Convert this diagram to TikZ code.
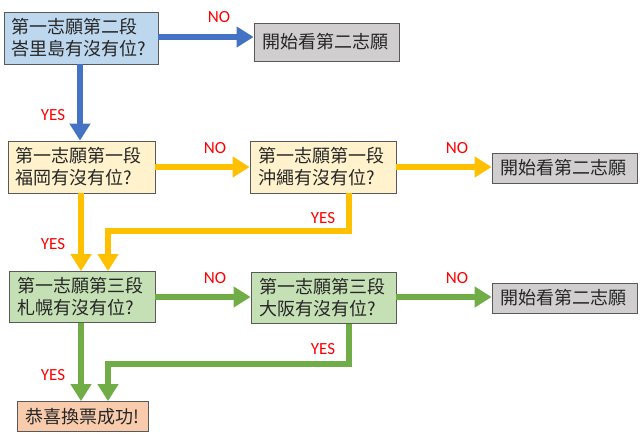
\documentclass[tikz,border=0pt]{standalone}
\usepackage{fontspec}
\setmainfont{Noto Sans CJK TC}
\newfontfamily\answerfont{Carlito}
\usetikzlibrary{arrows.meta}
\definecolor{qblue}{HTML}{BDD7EE}
\definecolor{qyellow}{HTML}{FFF2CC}
\definecolor{qgreen}{HTML}{C5E0B4}
\definecolor{qgray}{HTML}{D0CECE}
\definecolor{qorange}{HTML}{F8CBAD}
\definecolor{lblue}{HTML}{4472C4}
\definecolor{lgold}{HTML}{FFC000}
\definecolor{lgreen}{HTML}{70AD47}
\tikzset{
  qbox/.style={draw=black!65, line width=0.8pt, rectangle, inner xsep=8pt, inner ysep=0pt,
    align=left, text=black!85, font=\fontsize{18}{22}\selectfont},
  endbox/.style={qbox, fill=qgray, text width=129pt, minimum height=30pt},
  flow/.style={line width=6pt, line join=miter, -{Triangle[width=20pt,length=17pt]}},
}
\newcommand{\answer}[3]{\node[text=red, font=\answerfont\fontsize{17}{17}\selectfont] (#3) at ( #1 ) {#2};}

\begin{document}
\begin{tikzpicture}[x=1pt,y=-1pt]
        \useasboundingbox (0,0) rectangle (640,440);

        % row1
        \node[qbox, fill=qblue, text width=138pt, minimum height=52pt] (kagoshima) at (81,38) {第一志願第二段\\峇里島有沒有位?};
        \node[endbox, minimum height=38pt] (next1) at (326.5,42) {開始看第二志願};

        % row2
        \node[qbox, fill=qyellow, text width=131pt, minimum height=52pt] (fukuoka) at (81.5,167) {第一志願第一段\\福岡有沒有位?};
        \node[qbox, fill=qyellow, text width=130pt, minimum height=52pt] (okinawa) at (323,167) {第一志願第一段\\沖繩有沒有位?};
        \node[endbox] (next2) at (564.5,168) {開始看第二志願};

        % row3
        \node[qbox, fill=qgreen, text width=130pt, minimum height=51pt] (sapporo) at (82,297) {第一志願第三段\\札幌有沒有位?};
        \node[qbox, fill=qgreen, text width=129pt, minimum height=51pt] (osaka) at (323.5,298) {第一志願第三段\\大阪有沒有位?};
        \node[endbox] (next3) at (564.5,298) {開始看第二志願};

        % row4
        \node[qbox, fill=qorange, text width=115pt, minimum height=30pt] (success) at (82.5,416.5) {恭喜換票成功!};

        % arrows
        \draw[flow, lblue] (kagoshima.east |- 0,37) -- (next1.west |- 0,37);
        \draw[flow, lblue] (kagoshima.south -| 80,0) -- (fukuoka.north -| 80,0);

        \draw[flow, lgold] (fukuoka.east) -- (okinawa.west);
        \draw[flow, lgold] (okinawa.east) -- (okinawa.east -| next2.west);
        \draw[flow, lgold] (fukuoka.south -| 81,0) -- (sapporo.north -| 81,0);
        \draw[flow, lgold] ([xshift=26pt]okinawa.south) -- ++(0,38) -| ([xshift=26pt]sapporo.north);

        \draw[flow, lgreen] (sapporo.east) -- (sapporo.east -| osaka.west);
        \draw[flow, lgreen] (osaka.east |- 0,297) -- (next3.west |- 0,297);
        \draw[flow, lgreen] (sapporo.south -| 81,0) -- (success.north -| 81,0);
        \draw[flow, lgreen] ([xshift=25.5pt]osaka.south) -- ++(0,40) -| ([xshift=25.5pt]success.north);

        % labels
        \answer{219,17}{NO}{no1}
        \answer{53,115}{YES}{yes1}
        \answer{215,148}{NO}{no2}
        \answer{457,148}{NO}{no3}
        \answer{53,244}{YES}{yes2}
        \answer{323,218}{YES}{yes3}
        \answer{215,278}{NO}{no4}
        \answer{457,278}{NO}{no5}
        \answer{53,375}{YES}{yes4}
        \answer{323,349}{YES}{yes5}
    \end{tikzpicture}
\end{document}
